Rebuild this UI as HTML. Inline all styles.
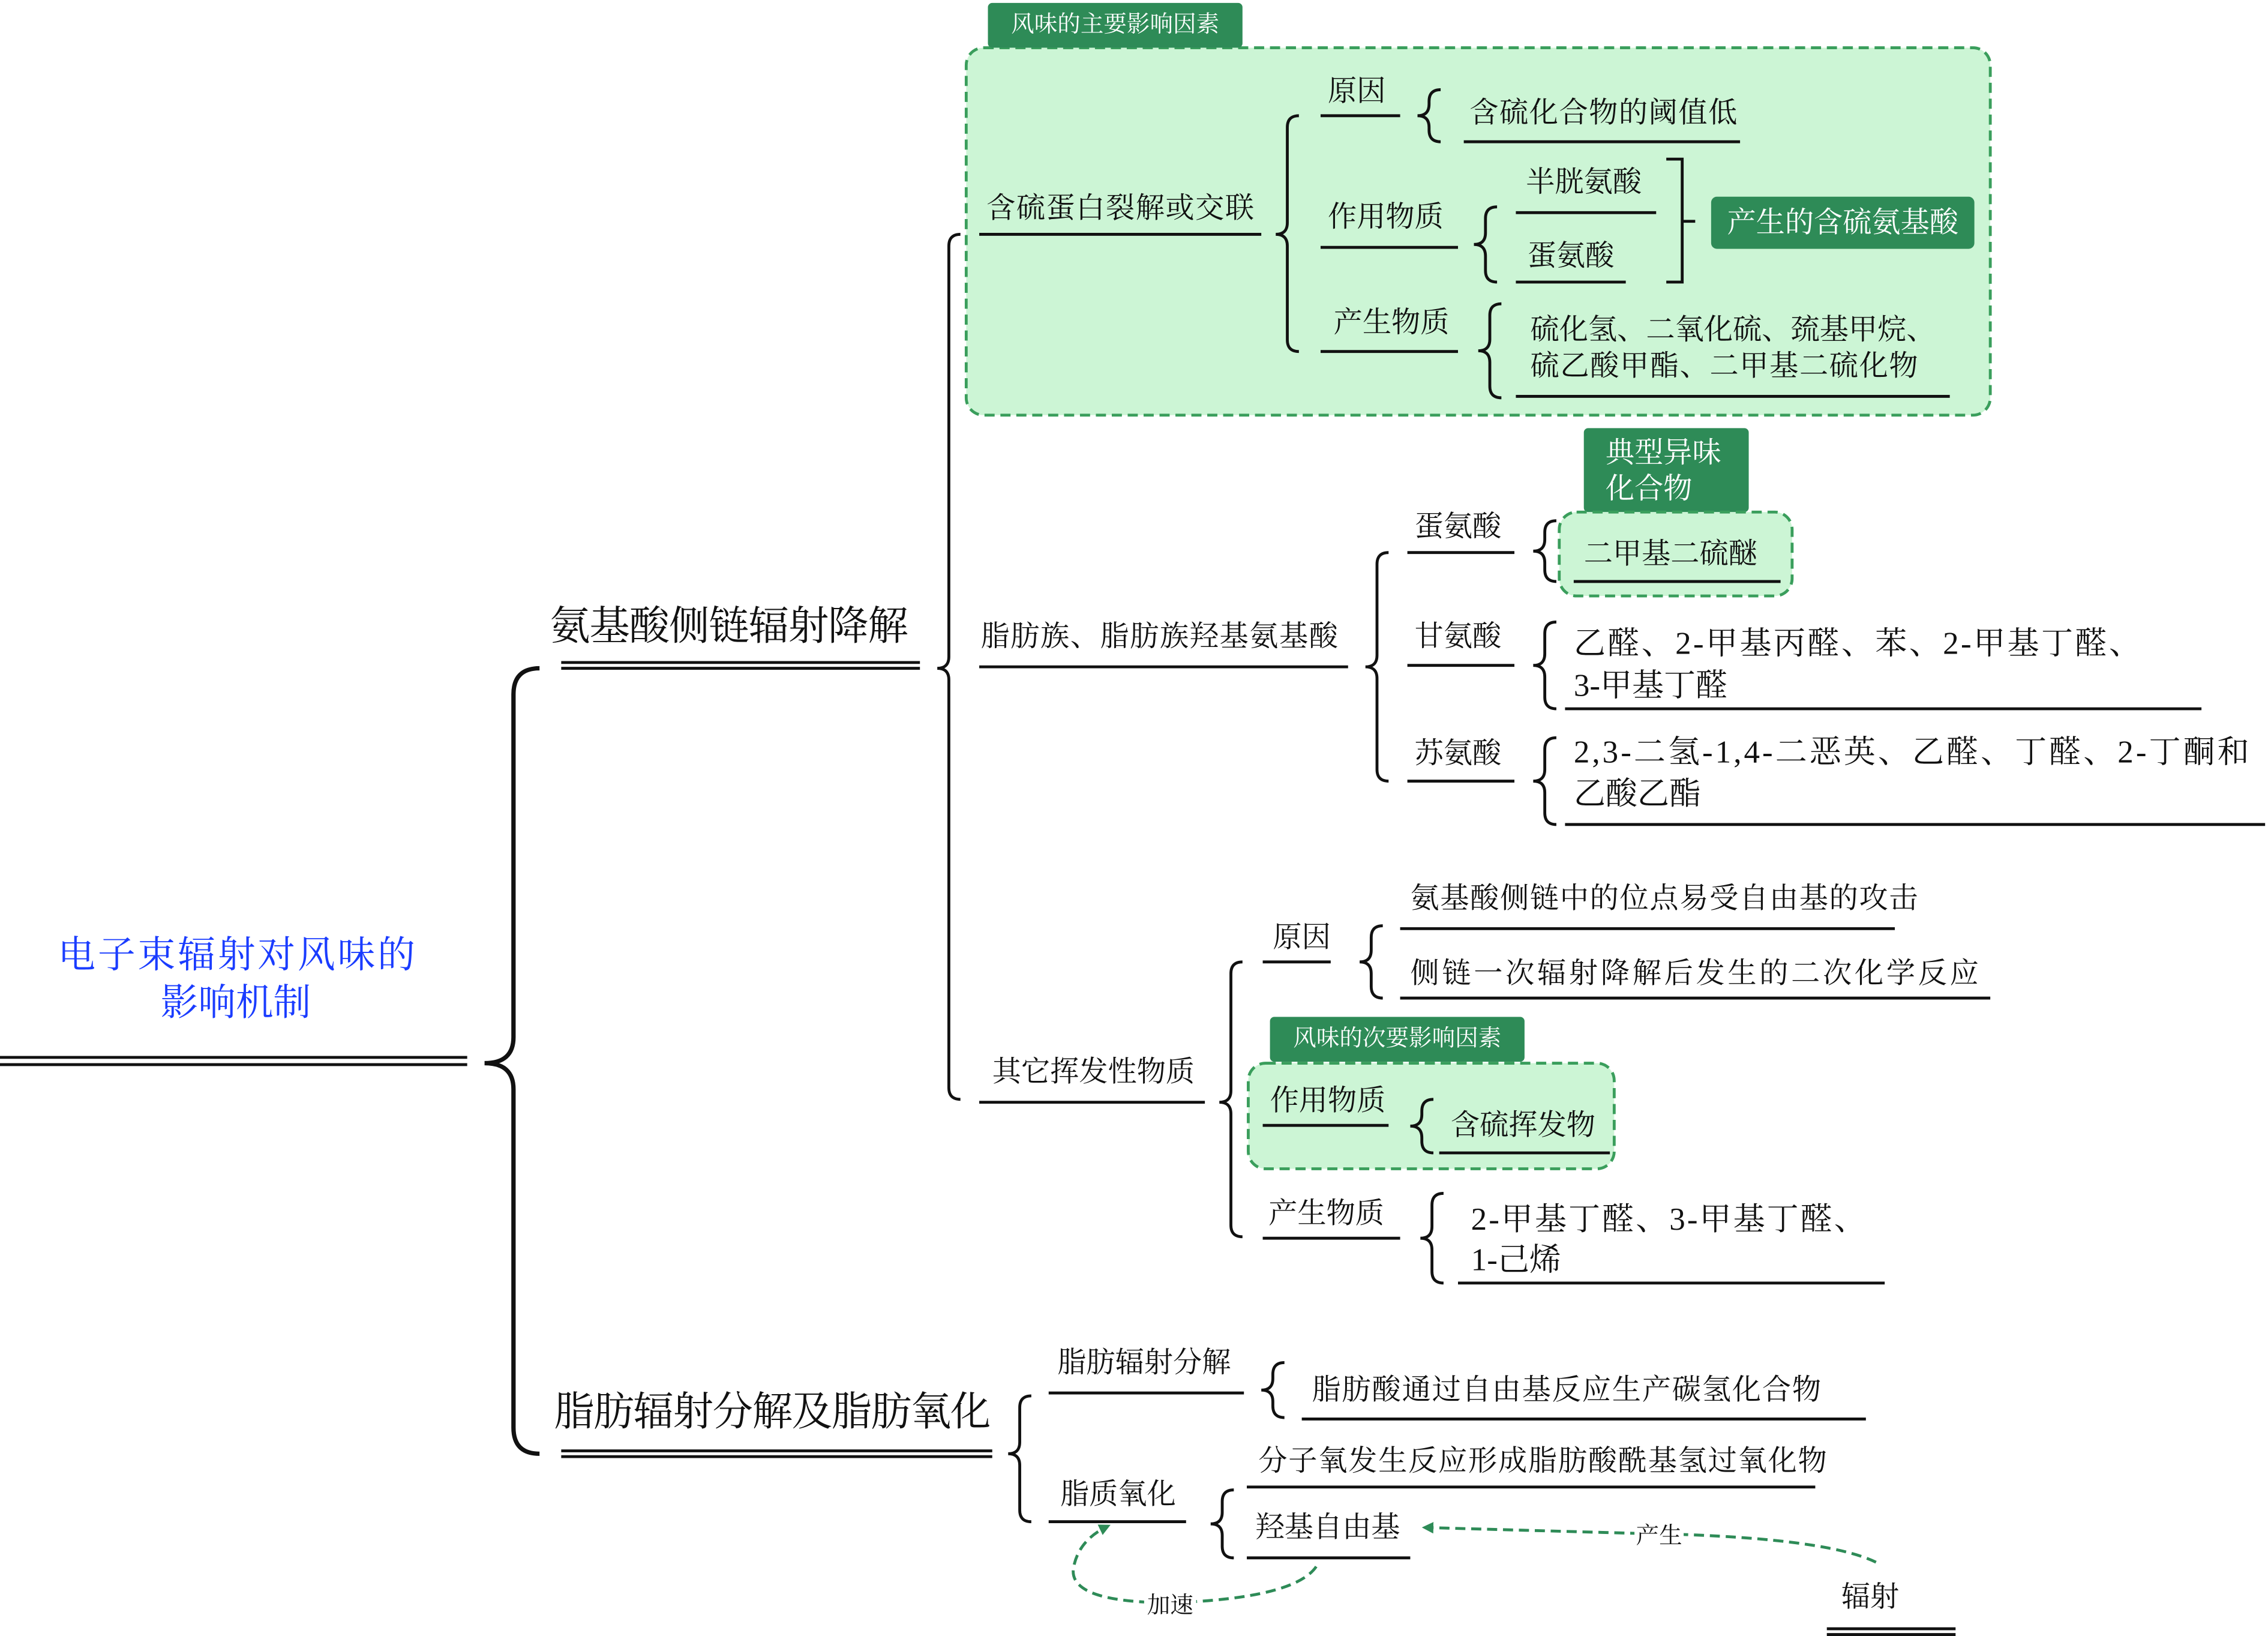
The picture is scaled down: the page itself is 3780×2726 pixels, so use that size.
<!DOCTYPE html>
<html><head><meta charset="utf-8">
<style>
html,body{margin:0;padding:0;background:#fff;}
svg{display:block;}
text{font-family:"Liberation Serif","Noto Serif CJK SC",serif;fill:#111;dominant-baseline:central;}
.w{fill:#fff;}
</style></head><body>
<svg width="3780" height="2726" viewBox="0 0 1568 1131" preserveAspectRatio="none" xmlns="http://www.w3.org/2000/svg">
<defs>
<marker id="ah" markerWidth="8" markerHeight="8" refX="6" refY="4" orient="auto" markerUnits="userSpaceOnUse"><path d="M0,0 L8,4 L0,8 z" fill="#2e8b57"/></marker>
</defs>
<rect x="668" y="33" width="708" height="254" rx="12" fill="#ccf5d5" stroke="#3a9e5c" stroke-width="2" stroke-dasharray="7,4"/>
<rect x="683" y="2" width="176" height="31" rx="3" fill="#2e8b57"/>
<text class="w" x="771" y="17" font-size="16" text-anchor="middle">风味的主要影响因素</text>
<rect x="1183" y="136" width="182" height="36" rx="4" fill="#2e8b57"/>
<text class="w" x="1274" y="154" font-size="20" text-anchor="middle">产生的含硫氨基酸</text>
<rect x="1095" y="296" width="114" height="58" rx="3" fill="#2e8b57"/>
<text class="w" x="1110" y="313" font-size="20">典型异味</text>
<text class="w" x="1110" y="338" font-size="20">化合物</text>
<rect x="1078" y="354" width="161" height="58" rx="12" fill="#ccf5d5" stroke="#3a9e5c" stroke-width="2" stroke-dasharray="7,4"/>
<rect x="878" y="703" width="176" height="31" rx="3" fill="#2e8b57"/>
<text class="w" x="966" y="718" font-size="16" text-anchor="middle">风味的次要影响因素</text>
<rect x="863" y="735" width="253" height="73" rx="12" fill="#ccf5d5" stroke="#3a9e5c" stroke-width="2" stroke-dasharray="7,4"/>

<g stroke="#111" fill="none" stroke-width="2">
<line x1="0" y1="731" x2="323" y2="731"/><line x1="0" y1="736" x2="323" y2="736"/>
<line x1="388" y1="458" x2="636" y2="458"/><line x1="388" y1="462" x2="636" y2="462"/>
<line x1="388" y1="1003" x2="686" y2="1003"/><line x1="388" y1="1007" x2="686" y2="1007"/>
<line x1="1263" y1="1126" x2="1352" y2="1126"/><line x1="1263" y1="1130" x2="1352" y2="1130"/>
<path d="M677 162H872 M677 461H932 M677 762H833
M913 80H968 M1012 98H1203 M913 171H1008 M1048 147H1145 M1048 195H1124 M913 243H1008 M1048 274H1348
M1088 402H1231 M973 382H1047 M973 460H1047 M1082 490H1522 M973 540H1047 M1082 570H1566
M873 665H920 M968 642H1310 M968 690H1376 M873 778H960 M995 797H1113 M873 856H968 M1008 887H1303
M725 963H860 M900 981H1290 M725 1052H820 M862 1028H1255 M862 1077H975"/>
<path d="M1152 110H1163V195H1152 M1163 153H1172"/>
</g>

<g stroke="#111" fill="none">
<path stroke-width="3" d="M373 462 Q355 462 355 480 L355 717 Q355 735 335 735 Q355 735 355 753 L355 987 Q355 1005 373 1005"/>
<path stroke-width="2" d="M664 162 Q656 162 656 170 L656 454 Q656 462 648 462 Q656 462 656 470 L656 752 Q656 760 664 760"/>
<path stroke-width="2" d="M898 80 Q890 80 890 88 L890 154 Q890 162 882 162 Q890 162 890 170 L890 235 Q890 243 898 243"/>
<path stroke-width="2" d="M996 62 Q988 62 988 70 L988 72 Q988 80 980 80 Q988 80 988 88 L988 90 Q988 98 996 98"/>
<path stroke-width="2" d="M1035 143 Q1027 143 1027 151 L1027 161 Q1027 169 1019 169 Q1027 169 1027 177 L1027 187 Q1027 195 1035 195"/>
<path stroke-width="2" d="M1038 210 Q1030 210 1030 218 L1030 234.5 Q1030 242.5 1022 242.5 Q1030 242.5 1030 250.5 L1030 267 Q1030 275 1038 275"/>
<path stroke-width="2" d="M960 382 Q952 382 952 390 L952 453 Q952 461 944 461 Q952 461 952 469 L952 532 Q952 540 960 540"/>
<path stroke-width="2" d="M1076 360 Q1068 360 1068 368 L1068 373 Q1068 381 1060 381 Q1068 381 1068 389 L1068 394 Q1068 402 1076 402"/>
<path stroke-width="2" d="M1076 430 Q1068 430 1068 438 L1068 452 Q1068 460 1060 460 Q1068 460 1068 468 L1068 482 Q1068 490 1076 490"/>
<path stroke-width="2" d="M1076 510 Q1068 510 1068 518 L1068 532 Q1068 540 1060 540 Q1068 540 1068 548 L1068 562 Q1068 570 1076 570"/>
<path stroke-width="2" d="M859 665 Q851 665 851 673 L851 754 Q851 762 843 762 Q851 762 851 770 L851 847 Q851 855 859 855"/>
<path stroke-width="2" d="M956 640 Q948 640 948 648 L948 657 Q948 665 940 665 Q948 665 948 673 L948 682 Q948 690 956 690"/>
<path stroke-width="2" d="M991 760 Q983 760 983 768 L983 770.5 Q983 778.5 975 778.5 Q983 778.5 983 786.5 L983 789 Q983 797 991 797"/>
<path stroke-width="2" d="M998 825 Q990 825 990 833 L990 848 Q990 856 982 856 Q990 856 990 864 L990 879 Q990 887 998 887"/>
<path stroke-width="2" d="M713 965 Q705 965 705 973 L705 997 Q705 1005 697 1005 Q705 1005 705 1013 L705 1044 Q705 1052 713 1052"/>
<path stroke-width="2" d="M888 942 Q880 942 880 950 L880 953 Q880 961 872 961 Q880 961 880 969 L880 972 Q880 980 888 980"/>
<path stroke-width="2" d="M853 1030 Q845 1030 845 1038 L845 1045.5 Q845 1053.5 837 1053.5 Q845 1053.5 845 1061.5 L845 1069 Q845 1077 853 1077"/>
</g>

<g stroke="#2e8b57" stroke-width="2" fill="none" stroke-dasharray="7,4">
<path d="M1297 1080 Q1260 1062 1130 1060 L985 1056" marker-end="url(#ah)"/>
<path d="M910 1083 Q895 1105 810 1108 Q740 1108 742 1085 Q745 1065 766 1055" marker-end="url(#ah)"/>
</g>
<rect x="1130" y="1052" width="34" height="20" fill="#fff"/>
<text x="1147" y="1062" font-size="16" text-anchor="middle">产生</text>
<rect x="791" y="1100" width="36" height="20" fill="#fff"/>
<text x="809" y="1110" font-size="16" text-anchor="middle">加速</text>

<text x="40" y="660" font-size="26" textLength="247" lengthAdjust="spacing" style="fill:#1a3cff">电子束辐射对风味的</text>
<text x="163" y="693" font-size="26" text-anchor="middle" style="fill:#1a3cff">影响机制</text>
<text x="380" y="433" font-size="28" textLength="248" lengthAdjust="spacing">氨基酸侧链辐射降解</text>
<text x="383" y="976" font-size="28" textLength="302" lengthAdjust="spacing">脂肪辐射分解及脂肪氧化</text>
<text x="682" y="144" font-size="20" textLength="185" lengthAdjust="spacing">含硫蛋白裂解或交联</text>
<text x="678" y="440" font-size="20" textLength="247" lengthAdjust="spacing">脂肪族、脂肪族羟基氨基酸</text>
<text x="686" y="741" font-size="20">其它挥发性物质</text>
<text x="918" y="63" font-size="20">原因</text>
<text x="1016" y="78" font-size="20" textLength="185" lengthAdjust="spacing">含硫化合物的阈值低</text>
<text x="918" y="150" font-size="20">作用物质</text>
<text x="1055" y="126" font-size="20">半胱氨酸</text>
<text x="1056" y="177" font-size="20">蛋氨酸</text>
<text x="922" y="223" font-size="20">产生物质</text>
<text x="1058" y="228" font-size="20" textLength="280" lengthAdjust="spacing">硫化氢、二氧化硫、巯基甲烷、</text>
<text x="1058" y="253" font-size="20" textLength="268" lengthAdjust="spacing">硫乙酸甲酯、二甲基二硫化物</text>
<text x="978" y="364" font-size="20">蛋氨酸</text>
<text x="1095" y="383" font-size="20">二甲基二硫醚</text>
<text x="978" y="440" font-size="20">甘氨酸</text>
<text x="1088" y="445" font-size="22" textLength="392" lengthAdjust="spacing">乙醛、2-甲基丙醛、苯、2-甲基丁醛、</text>
<text x="1088" y="474" font-size="22">3-甲基丁醛</text>
<text x="978" y="521" font-size="20">苏氨酸</text>
<text x="1088" y="520" font-size="22" textLength="467" lengthAdjust="spacing">2,3-二氢-1,4-二恶英、乙醛、丁醛、2-丁酮和</text>
<text x="1088" y="549" font-size="22">乙酸乙酯</text>
<text x="880" y="648" font-size="20">原因</text>
<text x="975" y="621" font-size="20" textLength="351" lengthAdjust="spacing">氨基酸侧链中的位点易受自由基的攻击</text>
<text x="975" y="673" font-size="20" textLength="393" lengthAdjust="spacing">侧链一次辐射降解后发生的二次化学反应</text>
<text x="878" y="761" font-size="20">作用物质</text>
<text x="1003" y="778" font-size="20">含硫挥发物</text>
<text x="877" y="839" font-size="20">产生物质</text>
<text x="1017" y="843" font-size="22" textLength="273" lengthAdjust="spacing">2-甲基丁醛、3-甲基丁醛、</text>
<text x="1017" y="871" font-size="22">1-己烯</text>
<text x="731" y="942" font-size="20">脂肪辐射分解</text>
<text x="907" y="961" font-size="20" textLength="352" lengthAdjust="spacing">脂肪酸通过自由基反应生产碳氢化合物</text>
<text x="733" y="1033" font-size="20">脂质氧化</text>
<text x="870" y="1010" font-size="20" textLength="393" lengthAdjust="spacing">分子氧发生反应形成脂肪酸酰基氢过氧化物</text>
<text x="868" y="1056" font-size="20">羟基自由基</text>
<text x="1273" y="1104" font-size="20">辐射</text>
</svg>
</body></html>
